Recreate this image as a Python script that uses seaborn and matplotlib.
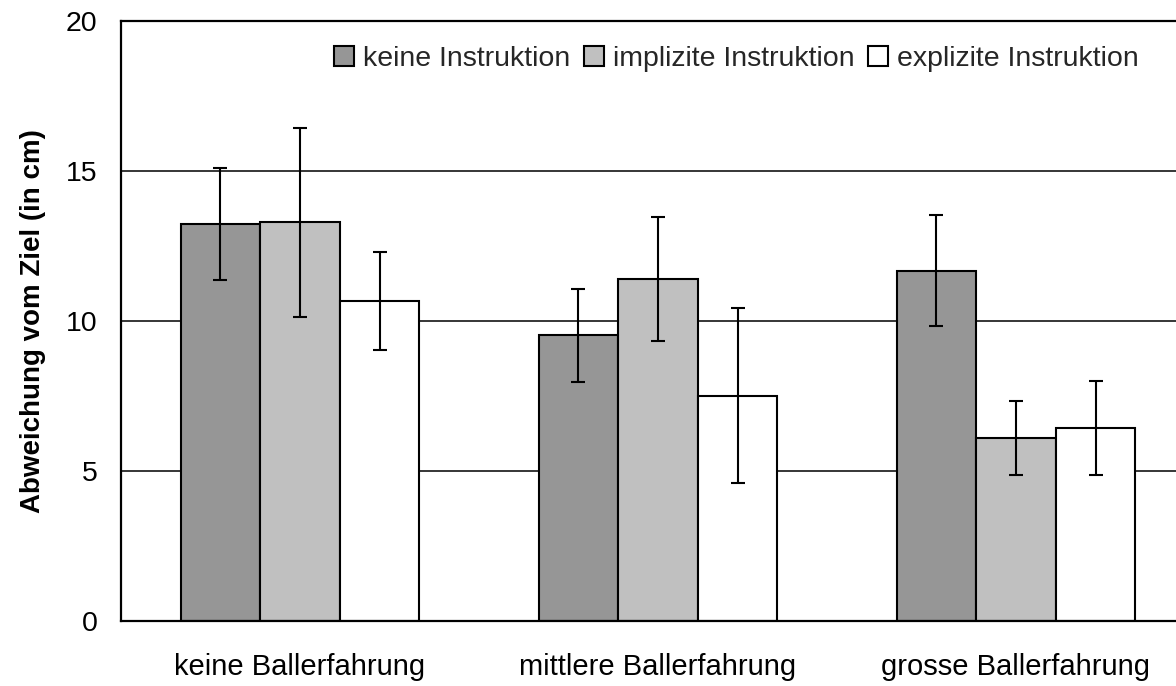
import matplotlib
matplotlib.use("Agg")
import matplotlib.pyplot as plt
import seaborn as sns
import pandas as pd

# Experience groups (x categories) and instruction conditions (hue)
erfahrung = ["keine Ballerfahrung", "mittlere Ballerfahrung", "grosse Ballerfahrung"]
instruktion = ["keine Instruktion", "implizite Instruktion", "explizite Instruktion"]

# Mean deviation from the target (cm) per instruction condition
mw_keine = [13.22, 9.52, 11.68]
mw_implizit = [13.29, 11.39, 6.10]
mw_explizit = [10.67, 7.51, 6.43]

# Standard errors
se_keine = [1.87, 1.54, 1.85]
se_implizit = [3.15, 2.07, 1.24]
se_explizit = [1.62, 2.92, 1.56]

farben = ["#969696", "#c0c0c0", "#ffffff"]

rows = []
for instr, mws in zip(instruktion, [mw_keine, mw_implizit, mw_explizit]):
    for erf, mw in zip(erfahrung, mws):
        rows.append({"Erfahrung": erf, "Instruktion": instr, "Abweichung": mw})
df = pd.DataFrame(rows)

sns.set_theme(style="white")
plt.rcParams["font.family"] = ["Liberation Sans", "DejaVu Sans"]

fig = plt.figure(figsize=(11.76, 6.86), dpi=100)
ax = fig.add_axes([121 / 1176, 65 / 686, 1074 / 1176, 600 / 686])

sns.barplot(
    data=df, x="Erfahrung", y="Abweichung", hue="Instruktion",
    order=erfahrung, hue_order=instruktion, palette=farben,
    saturation=1, width=0.667, errorbar=None,
    edgecolor="black", linewidth=1.5, ax=ax, zorder=2,
)

# error bars at the centres of the drawn bars
for cont, ses in zip(ax.containers, [se_keine, se_implizit, se_explizit]):
    xs = [b.get_x() + b.get_width() / 2 for b in cont]
    hs = [b.get_height() for b in cont]
    ax.errorbar(xs, hs, yerr=ses, fmt="none", ecolor="black",
                elinewidth=1.5, capsize=4.7, capthick=1.5, zorder=3)

ax.set_ylim(0, 20)
ax.set_xlim(-0.5, 2.5)
ax.set_yticks([0, 5, 10, 15, 20])
ax.yaxis.grid(True, color="black", linewidth=1.1)
ax.set_axisbelow(True)

for side in ["left", "top", "bottom"]:
    ax.spines[side].set_visible(True)
    ax.spines[side].set_color("black")
    ax.spines[side].set_linewidth(1.6)
ax.spines["right"].set_visible(False)

ax.tick_params(axis="y", length=0, pad=17, labelsize=20.5, labelcolor="black")
ax.tick_params(axis="x", length=0, pad=23, labelsize=21, labelcolor="black")

ax.set_xlabel("")
ax.set_ylabel("Abweichung vom Ziel (in cm)", fontsize=20, fontweight="bold",
              color="black", labelpad=14)

handles, labels = ax.get_legend_handles_labels()
ax.legend(
    handles, labels, ncol=3, frameon=False, fontsize=20.5,
    loc="center right", bbox_to_anchor=(1139 / 1176, 1 - 59 / 686),
    bbox_transform=fig.transFigure,
    handlelength=0.7, handleheight=0.7, handletextpad=0.33,
    columnspacing=0.47, borderpad=0, borderaxespad=0,
)

fig.savefig("out.png", dpi=100)
